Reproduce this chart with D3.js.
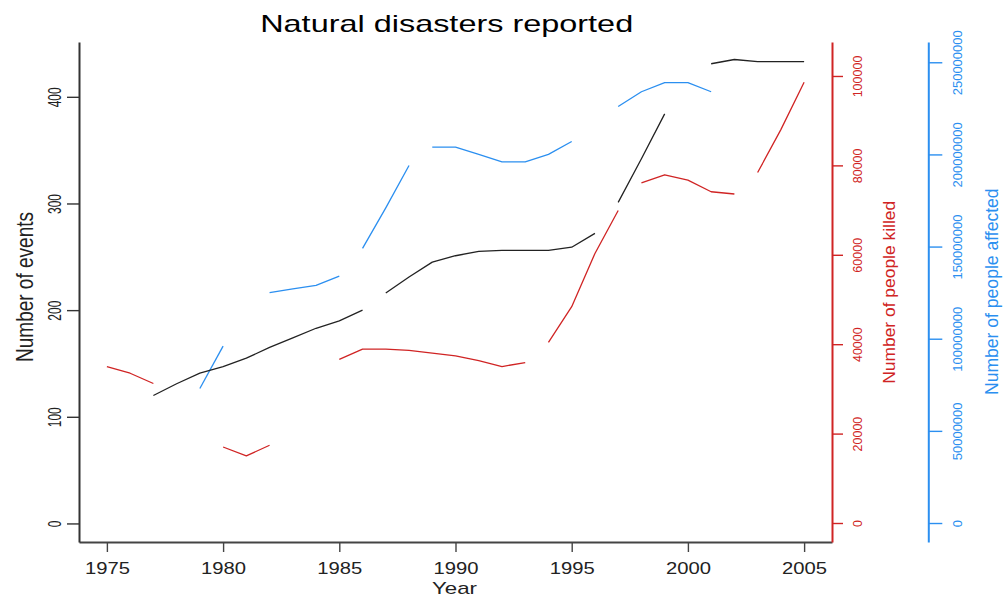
<!DOCTYPE html>
<html>
<head>
<meta charset="utf-8">
<script src="https://cdn.jsdelivr.net/npm/d3@7"></script>
<style>
  body { margin: 0; background: #fff; }
  text { font-family: "Liberation Sans", Arial, sans-serif; }
</style>
</head>
<body>
<div id="chart"></div>
<script>
// Data (null = no value that year)
const years = [1975, 1976, 1977, 1978, 1979, 1980, 1981, 1982, 1983, 1984,
               1985, 1986, 1987, 1988, 1989, 1990, 1991, 1992, 1993, 1994,
               1995, 1996, 1997, 1998, 1999, 2000, 2001, 2002, 2003, 2004, 2005];
const events = [null, null, 120, 131, 141, 147, 155, 165, 174, 183,
                190, 200, 216, 231, 245, 251, 255, 256, 256, 256,
                259, 272, 301, 342, 384, null, 431, 435, 433, 433, 433];
const killed = [35000, 33500, 31200, null, null, 17000, 15000, 17400, null, null,
                36600, 38900, 38900, 38600, 38000, 37400, 36300, 35000, 35900, 40400,
                48400, 60300, 69900, 76100, 77900, 76700, 74100, 73600, 78400, 88000, 98600];
const affected = [null, null, null, null, 73e6, 96e6, null, 125e6, 127e6, 129e6,
                  134e6, 149e6, 171e6, 194e6, 204e6, 204e6, 200e6, 196e6, 196e6, 200e6,
                  207e6, null, 226e6, 234e6, 239e6, 239e6, 234e6, null, null, null, null];
// years after which the line is broken although both ends have values
const eventsBreaks = [1986, 1996];
const killedBreaks = [1993, 1997, 2002];
const affectedBreaks = [1985, 1988];

const yearTicks = [1975, 1980, 1985, 1990, 1995, 2000, 2005];
const eventTicks = [0, 100, 200, 300, 400];
const killedTicks = [0, 20000, 40000, 60000, 80000, 100000];
const affectedTicks = [0, 50000000, 100000000, 150000000, 200000000, 250000000];

const W = 1003, H = 598;
const plot = { left: 79, right: 832, top: 42, bottom: 542 };
const RED = "#d02424", BLUE = "#2b8ff0", INK = "#222";

const svg = d3.select("#chart").append("svg")
    .attr("width", W).attr("height", H);

// Scales
const x = d3.scaleLinear().domain([1973.8, 2006.2]).range([plot.left, plot.right]);
const yEv = d3.scaleLinear().domain([-17.4, 451.4]).range([plot.bottom, plot.top]);
const yKi = d3.scaleLinear().domain([-4250, 107600]).range([plot.bottom, plot.top]);
const yAf = d3.scaleLinear().domain([-10.3e6, 261e6]).range([plot.bottom, plot.top]);

// split a series into drawn pieces
function segments(vals, breaks) {
    const out = [];
    let cur = [];
    years.forEach((yr, i) => {
        if (vals[i] == null) {
            if (cur.length) out.push(cur);
            cur = [];
            return;
        }
        cur.push({ year: yr, v: vals[i] });
        if (breaks.includes(yr)) { out.push(cur); cur = []; }
    });
    if (cur.length) out.push(cur);
    return out;
}

function drawSeries(vals, breaks, yScale, color) {
    const line = d3.line()
        .x(d => x(d.year))
        .y(d => yScale(d.v));
    svg.append("g").selectAll("path")
        .data(segments(vals, breaks))
        .enter().append("path")
        .attr("d", line)
        .attr("fill", "none")
        .attr("stroke", color)
        .attr("stroke-width", 1.3)
        .attr("stroke-linejoin", "round");
}

drawSeries(affected, affectedBreaks, yAf, BLUE);
drawSeries(killed, killedBreaks, yKi, RED);
drawSeries(events, eventsBreaks, yEv, INK);

// Axes
function styleAxis(g, color, width) {
    g.select(".domain").attr("stroke", color).attr("stroke-width", width);
    g.selectAll(".tick line").attr("stroke", color).attr("stroke-width", 1.4);
    g.selectAll(".tick text").attr("fill", color);
}

const xAxis = svg.append("g")
    .attr("transform", `translate(0,${plot.bottom})`)
    .call(d3.axisBottom(x).tickValues(yearTicks).tickFormat(d3.format("d"))
        .tickSize(10).tickSizeOuter(0));
styleAxis(xAxis, "#444", 2);
xAxis.selectAll(".tick text")
    .attr("y", 32).attr("dy", 0)
    .attr("font-size", 17)
    .attr("textLength", 45).attr("lengthAdjust", "spacingAndGlyphs")
    .attr("fill", INK);

const leftAxis = svg.append("g")
    .attr("transform", `translate(${plot.left},0)`)
    .call(d3.axisLeft(yEv).tickValues(eventTicks).tickSize(12).tickSizeOuter(0));
styleAxis(leftAxis, "#333", 2);
leftAxis.selectAll(".tick text")
    .attr("x", 0).attr("dy", 0)
    .attr("text-anchor", "middle")
    .attr("font-size", 12)
    .attr("transform", "translate(-18,0) scale(1.5,1) rotate(-90)")
    .attr("fill", INK);

const redAxis = svg.append("g")
    .attr("transform", `translate(${plot.right},0)`)
    .call(d3.axisRight(yKi).tickValues(killedTicks).tickFormat(d3.format("d"))
        .tickSize(11).tickSizeOuter(0));
styleAxis(redAxis, RED, 2);
redAxis.selectAll(".tick text")
    .attr("x", 0).attr("dy", 0)
    .attr("text-anchor", "middle")
    .attr("font-size", 12.5)
    .attr("transform", "translate(30,0) rotate(-90)");

const blueAxis = svg.append("g")
    .attr("transform", "translate(928.3,0)")
    .call(d3.axisRight(yAf).tickValues(affectedTicks).tickFormat(d3.format("d"))
        .tickSize(14).tickSizeOuter(0));
styleAxis(blueAxis, BLUE, 2);
blueAxis.selectAll(".tick text")
    .attr("x", 0).attr("dy", 0)
    .attr("text-anchor", "middle")
    .attr("font-size", 13)
    .attr("transform", "translate(33.4,0) rotate(-90)");

svg.selectAll(".domain").attr("fill", "none");
svg.selectAll(".tick text").attr("font-family", null);

// Titles
svg.append("text")
    .attr("x", 446.7).attr("y", 32)
    .attr("text-anchor", "middle")
    .attr("font-size", 24)
    .attr("textLength", 373).attr("lengthAdjust", "spacingAndGlyphs")
    .attr("fill", "#000")
    .text("Natural disasters reported");

svg.append("text")
    .attr("x", 454.5).attr("y", 594)
    .attr("text-anchor", "middle")
    .attr("font-size", 17)
    .attr("textLength", 45).attr("lengthAdjust", "spacingAndGlyphs")
    .attr("fill", INK)
    .text("Year");

function vLabel(text, bx, cy, size, len, k, color) {
    svg.append("text")
        .attr("transform", `translate(${bx},${cy}) scale(${k},1) rotate(-90)`)
        .attr("text-anchor", "middle")
        .attr("font-size", size)
        .attr("textLength", len).attr("lengthAdjust", "spacingAndGlyphs")
        .attr("fill", color)
        .text(text);
}
vLabel("Number of events", 33.3, 287, 16, 150, 1.45, INK);
vLabel("Number of people killed", 895, 292.3, 17.4, 183, 1, RED);
vLabel("Number of people affected", 997.5, 291.7, 17.5, 206.7, 1, BLUE);
</script>
</body>
</html>
